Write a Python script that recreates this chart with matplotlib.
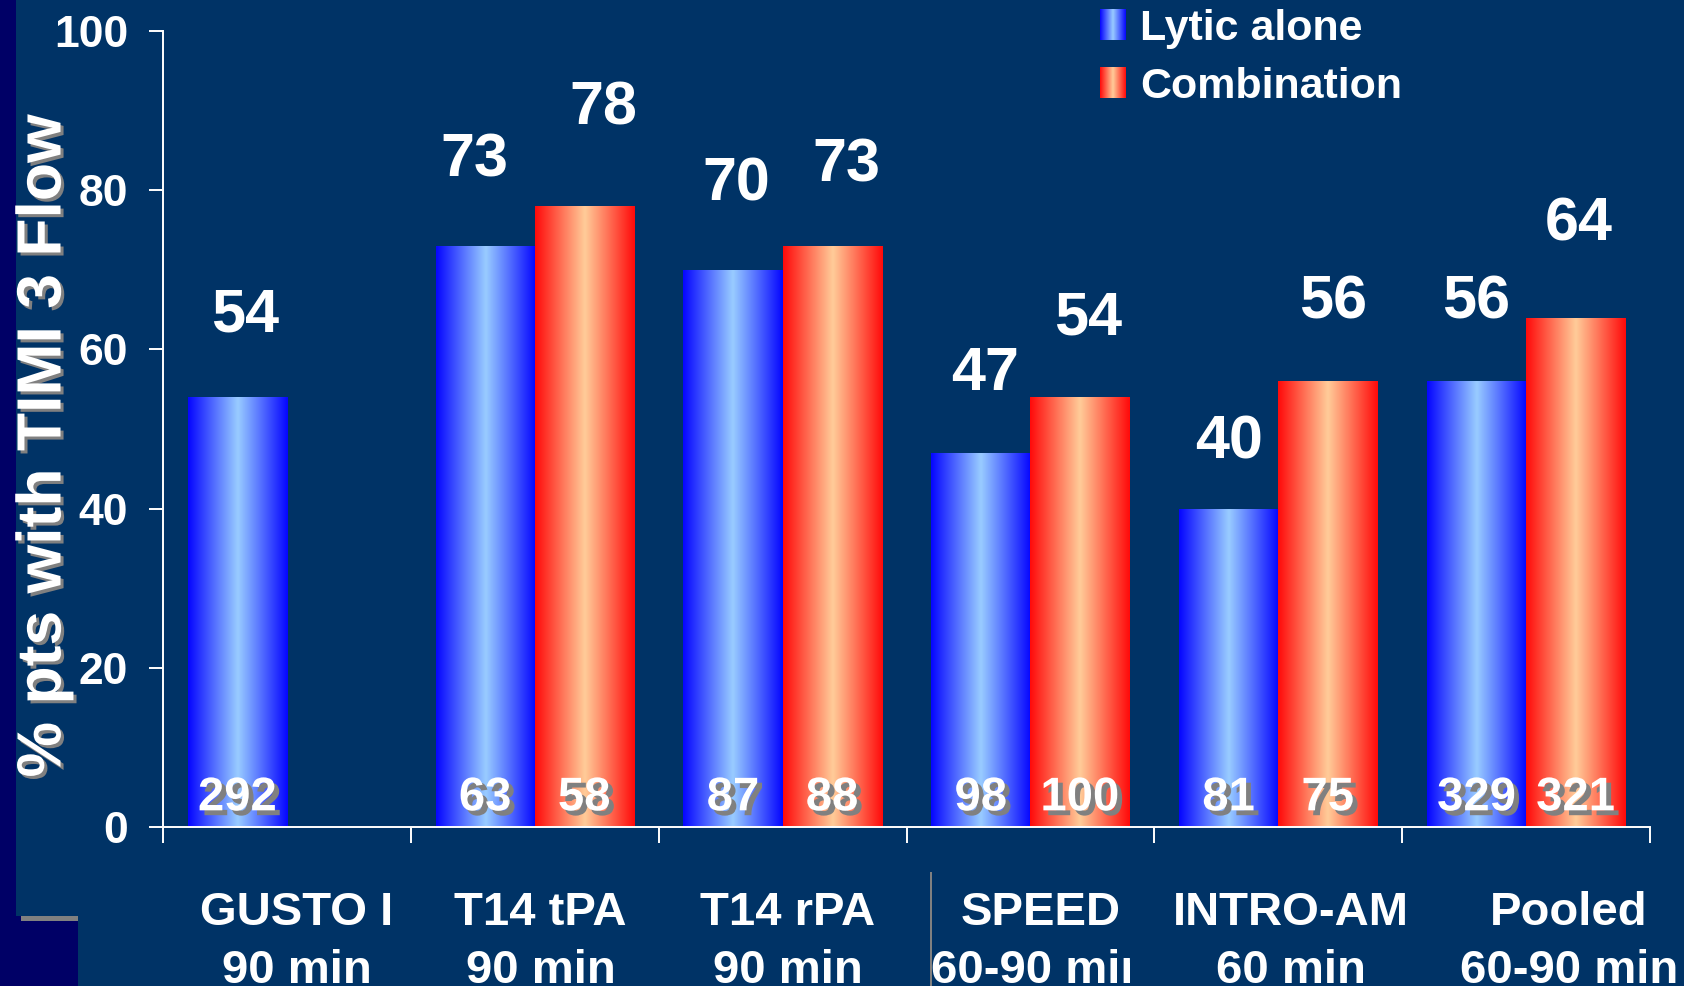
import numpy as np
import matplotlib
matplotlib.use("Agg")
import matplotlib.pyplot as plt
import matplotlib.patheffects as pe
from matplotlib.patches import Rectangle
from matplotlib.transforms import Bbox, TransformedBbox, blended_transform_factory
from matplotlib.colors import to_rgb

# ---- data -------------------------------------------------------------
trials = ["GUSTO I", "T14 tPA", "T14 rPA", "SPEED", "INTRO-AM", "Pooled"]
timepoints = ["90 min", "90 min", "90 min", "60-90 min", "60 min", "60-90 min"]
lytic_alone = [54, 73, 70, 47, 40, 56]
combination = [None, 78, 73, 54, 56, 64]
n_lytic = [292, 63, 87, 98, 81, 329]
n_combination = [None, 58, 88, 100, 75, 321]
series_names = ["Lytic alone", "Combination"]
yticks = [0, 20, 40, 60, 80, 100]
ylabel = "% pts with TIMI 3 Flow"

# ---- style ------------------------------------------------------------
W, H, DPI = 1684, 986, 100
NAVY = "#003366"
DARK = "#000066"
GREY = "#808080"
BLUE_EDGE, BLUE_MID = "#0505ff", "#99ccff"
RED_EDGE, RED_MID = "#ff0a0a", "#ffcc99"

plt.rcParams["font.family"] = ["Liberation Sans", "DejaVu Sans"]
plt.rcParams["font.weight"] = "bold"

fig = plt.figure(figsize=(W / DPI, H / DPI), dpi=DPI, facecolor=NAVY)


def px_box(x0, y0, x1, y1):
    """Pixel box (origin top-left) -> figure fraction (left, bottom, width, height)."""
    return (x0 / W, 1 - y1 / H, (x1 - x0) / W, (y1 - y0) / H)


def add_rect(x0, y0, x1, y1, color):
    x, y, w, h = px_box(x0, y0, x1, y1)
    fig.add_artist(Rectangle((x, y), w, h, transform=fig.transFigure,
                             facecolor=color, edgecolor="none", zorder=0))


def gradient(edge, mid, n=256):
    u = np.linspace(0, 1, n)
    t = 1 - np.abs(2 * u - 1)
    e, m = np.array(to_rgb(edge)), np.array(to_rgb(mid))
    return (e[None, :] + (m - e)[None, :] * t[:, None])[None, :, :]


blue_grad = gradient(BLUE_EDGE, BLUE_MID)
red_grad = gradient(RED_EDGE, RED_MID)

# slide decoration: dark strip on the left edge and a grey rule
add_rect(0, 0, 16, 921, DARK)
add_rect(0, 916, 78, 986, DARK)
add_rect(21, 916, 78, 921, GREY)
add_rect(930, 872, 932.5, 986, GREY)

# ---- axes -------------------------------------------------------------
ax = fig.add_axes(px_box(163, 31, 1650, 827))
ax.set_facecolor("none")

x = np.arange(len(trials)) + 0.5
width = 0.4
shadow = [pe.SimplePatchShadow(offset=(3.5, -3.5), shadow_rgbFace=GREY, alpha=1.0),
          pe.Normal()]

# hand placement of a few value labels (series, group) -> (dx, dy) in pixels
label_shift = {(0, 1): (-11, 7), (1, 1): (19, 19), (0, 2): (3, 7),
               (1, 2): (14, 2), (0, 3): (4, 0), (1, 3): (8, 0),
               (0, 4): (0, -12), (1, 4): (5, 0), (1, 5): (3, 15), (0, 0): (8, 3)}

series = [(lytic_alone, n_lytic, blue_grad, -width / 2),
          (combination, n_combination, red_grad, width / 2)]

for s, (values, counts, grad, dx) in enumerate(series):
    idx = [i for i, v in enumerate(values) if v is not None]
    vals = [values[i] for i in idx]
    bars = ax.bar(x[idx] + dx, vals, width, facecolor="none", edgecolor="none", zorder=1)
    for rect, i in zip(bars, idx):
        x0, w, h = rect.get_x(), rect.get_width(), rect.get_height()
        im = ax.imshow(grad, extent=(x0, x0 + w, 0, h), aspect="auto",
                       interpolation="bilinear", zorder=2)
        im.set_clip_path(rect)
        cx = x0 + w / 2
        sx, sy = label_shift.get((s, i), (0, 0))
        ax.annotate(str(values[i]), xy=(cx, h), xytext=(sx * 0.72, 45 + sy * 0.72),
                    textcoords="offset points", ha="center", va="baseline",
                    fontsize=44, color="white", zorder=4)
        ax.annotate(str(counts[i]), xy=(cx, 0), xytext=(0, 12), textcoords="offset points",
                    ha="center", va="baseline", fontsize=34, color="white", zorder=4,
                    path_effects=shadow)

ax.set_xlim(0, len(trials))
ax.set_ylim(0, 100)

for side in ("top", "right"):
    ax.spines[side].set_visible(False)
for side in ("left", "bottom"):
    ax.spines[side].set_color("white")
    ax.spines[side].set_linewidth(1.4)

ax.set_xticks(np.arange(len(trials) + 1))
ax.set_xticklabels([])
ax.tick_params(axis="x", direction="out", length=11.5, width=1.4, color="white")
ax.set_yticks(yticks)
ax.tick_params(axis="y", direction="out", length=10, width=1.4, color="white",
               labelcolor="white", labelsize=32, pad=15)

# category labels under the axis (two lines each)
blend = blended_transform_factory(ax.transData, fig.transFigure)
nudge_px = [10, 6, 5, 10, 13, 43]
for i, (name, tp) in enumerate(zip(trials, timepoints)):
    dx_pt = nudge_px[i] * 0.72
    ax.annotate(name, xy=(x[i], 1 - 925 / H), xycoords=blend, xytext=(dx_pt, 0),
                textcoords="offset points", ha="center", va="baseline",
                fontsize=34, color="white")
    t2 = ax.annotate(tp, xy=(x[i], 1 - 983 / H), xycoords=blend, xytext=(dx_pt, 0),
                     textcoords="offset points", ha="center", va="baseline",
                     fontsize=34, color="white")
    if name == "SPEED":
        t2.set_clip_box(TransformedBbox(Bbox.from_extents(931 / W, 0, 1130 / W, 1),
                                        fig.transFigure))
        t2.set_clip_on(True)

# y-axis title with drop shadow
fig.text(44 / W, 1 - 446 / H, ylabel, rotation=90, ha="center", va="center",
         fontsize=45, color="white",
         path_effects=[pe.SimplePatchShadow(offset=(2.2, -2.2), shadow_rgbFace=GREY, alpha=1.0),
                       pe.Normal()])

# legend: gradient swatches with labels
for k, (name, grad) in enumerate(zip(series_names, (blue_grad, red_grad))):
    top = 9 + 58 * k
    sw = fig.add_axes(px_box(1100, top, 1126, top + 31))
    sw.imshow(grad, aspect="auto", interpolation="bilinear")
    sw.set_axis_off()
    fig.text(1140 / W, 1 - (top + 31) / H, name, ha="left", va="baseline",
             fontsize=31, color="white")

fig.savefig("out.png", dpi=DPI, facecolor=NAVY)
